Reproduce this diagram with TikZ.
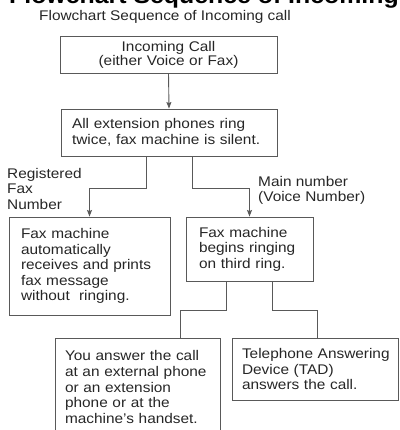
\documentclass[tikz,border=0pt]{standalone}
\usepackage{fontspec}
\setmainfont{Liberation Sans}[FakeStretch=1.1]
\usetikzlibrary{arrows.meta}
\hyphenpenalty=10000
\exhyphenpenalty=10000
\begin{document}
\begin{tikzpicture}[x=1pt,y=-1pt,
  every node/.style={text=black!85,font=\fontsize{14}{15.6}\selectfont},
  box/.style={draw=black!65,line width=0.9pt,inner ysep=0pt,align=left},
  lbl/.style={inner sep=0pt,anchor=north west,align=left},
  link/.style={draw=black!65,line width=0.9pt},
  >={Stealth[length=6.5pt,width=5pt,inset=1pt]}]
\useasboundingbox (0,0) rectangle (399,430);
\clip (0,0) rectangle (399,430);
% titles
\node[inner sep=0pt,anchor=base west,font=\fontsize{22.6}{24}\selectfont\bfseries,text=black] (head) at (9,3.5) {Flowchart Sequence of Incoming call};
\node[inner sep=0pt,anchor=base west] (sub) at (39,21) {Flowchart Sequence of Incoming call};
% boxes
\node[box,align=center,inner xsep=0pt,text width=217pt,minimum height=37pt,font=\fontsize{14}{14}\selectfont] (in) at (168.5,54.5) {Incoming Call\\(either Voice or Fax)};
\node[box,inner xsep=11pt,text width=194pt,minimum height=47pt] (ring) at (169,132.5) {All extension phones ring\\twice, fax machine is silent.};
\node[box,inner xsep=12pt,text width=137pt,minimum height=98pt] (fax) at (89.5,266) {Fax machine\\automatically\\receives and prints\\fax message\\without~ ringing.};
\node[box,inner xsep=13pt,text width=101pt,minimum height=64pt] (begin) at (249.5,249) {Fax machine\\begins ringing\\on third ring.};
\node[box,inner xsep=10pt,text width=145pt,minimum height=98pt] (you) at (137.5,387) {You answer the call\\at an external phone\\or an extension\\phone or at the\\machine's handset.};
\node[box,inner xsep=10pt,text width=146pt,minimum height=62pt] (tad) at (315,369) {Telephone~Answering\\Device (TAD)\\answers the call.};
% branch labels
\node[lbl] (reg) at (7,168) {Registered\\Fax\\Number};
\node[lbl] (main) at (258,176) {Main number\\(Voice Number)};
% connectors
\draw[link,->] (in.south) -- (ring.north);
\draw[link,->] ([xshift=-23pt]ring.south) -- ++(0,32) -| (fax.north);
\draw[link,->] ([xshift=23pt]ring.south) -- ++(0,32) -| (begin.north);
\draw[link] ([xshift=-23.5pt]begin.south) -- ++(0,29) -| ([xshift=42.5pt]you.north);
\draw[link] ([xshift=22.5pt]begin.south) -- ++(0,29) -| ([xshift=2pt]tad.north);
\end{tikzpicture}
\end{document}
